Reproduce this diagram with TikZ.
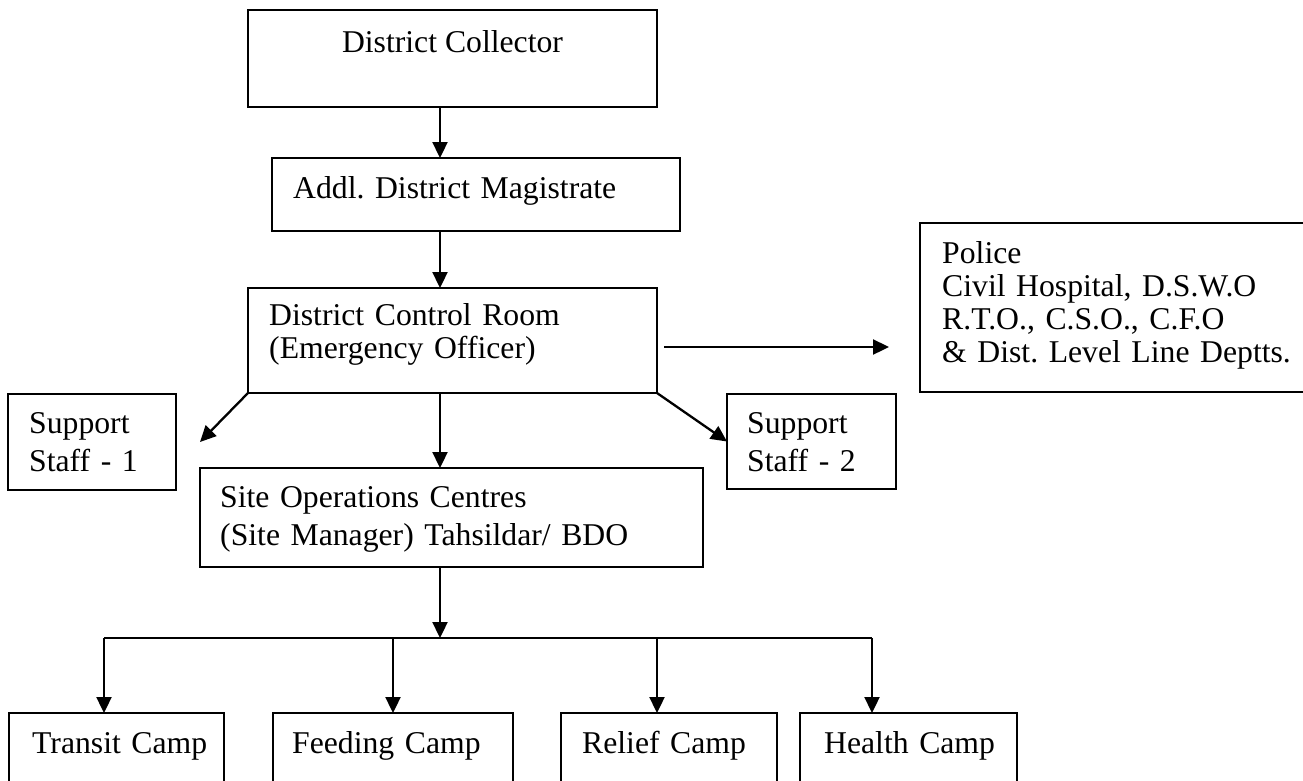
\documentclass[tikz,border=0pt]{standalone}
\usepackage{fontspec}
\setmainfont{Liberation Serif}
\usetikzlibrary{arrows.meta}
\frenchspacing
\begin{document}
\begin{tikzpicture}[x=1pt,y=-1pt,
  box/.style={draw, line width=2.3pt, inner sep=0pt, outer sep=0pt, anchor=north west},
  txt/.style={inner sep=0pt, anchor=base west, text width=600pt, align=left,
              font=\fontsize{31.7}{33.3}\selectfont\frenchspacing},
  txtw/.style={txt, font=\fontsize{31.7}{38}\selectfont\frenchspacing},
  arr/.style={-{Triangle[length=16pt,width=15pt]}, line width=2.3pt},
  ln/.style={line width=2.3pt}]
\useasboundingbox (0,0) rectangle (1303,780);
\clip (0,0) rectangle (1303,780);
% boxes
\node[box, minimum width=409pt, minimum height=97pt]  (dc)  at (248,10)  {};
\node[box, minimum width=408pt, minimum height=73pt]  (adm) at (272,158) {};
\node[box, minimum width=409pt, minimum height=105pt] (dcr) at (248,288) {};
\node[box, minimum width=400pt, minimum height=169pt] (pol) at (920,223) {};
\node[box, minimum width=168pt, minimum height=96pt]  (ss1) at (8,394)   {};
\node[box, minimum width=169pt, minimum height=95pt]  (ss2) at (727,394) {};
\node[box, minimum width=503pt, minimum height=99pt]  (soc) at (200,468) {};
\node[box, minimum width=215pt, minimum height=90pt]  (tc)  at (9,713)   {};
\node[box, minimum width=240pt, minimum height=90pt]  (fc)  at (273,713) {};
\node[box, minimum width=216pt, minimum height=90pt]  (rc)  at (561,713) {};
\node[box, minimum width=217pt, minimum height=90pt]  (hc)  at (800,713) {};
% texts
\node[inner sep=0pt, anchor=base, font=\fontsize{31.7}{33.3}\selectfont] (dct) at (452.5,52) {District Collector};
\node[txt] (admt) at (293,198) {Addl. District Magistrate};
\node[txt] (dcrt) at (269,325) {District Control Room\\(Emergency Officer)};
\node[txt] (polt) at (942,263) {Police\\Civil Hospital, D.S.W.O\\R.T.O., C.S.O., C.F.O\\\& Dist. Level Line Deptts.};
\node[txtw] (ss1t) at (29,433) {Support\\Staff - 1};
\node[txtw] (ss2t) at (747,433) {Support\\Staff - 2};
\node[txtw] (soct) at (220,507) {Site Operations Centres\\(Site Manager) Tahsildar/ BDO};
\node[txt] (tct) at (32,753) {Transit Camp};
\node[txt] (fct) at (292,753) {Feeding Camp};
\node[txt] (rct) at (582,753) {Relief Camp};
\node[txt] (hct) at (824,753) {Health Camp};
% helper coordinates
\coordinate (ax) at (440,0);
\coordinate (h1) at (664,347);
\coordinate (h2) at (889,347);
\coordinate (dl) at (200,442);
\coordinate (bm) at (440,638);
\coordinate (b1) at (104,638);
\coordinate (b2) at (393,638);
\coordinate (b3) at (657,638);
\coordinate (b4) at (872,638);
% connectors
\draw[arr] (dc.south -| ax) -- (adm.north -| ax);
\draw[arr] (adm.south -| ax) -- (dcr.north -| ax);
\draw[arr] (dcr.south -| ax) -- (soc.north -| ax);
\draw[arr] (h1) -- (h2);
\draw[arr] (dcr.south west) -- (dl);
\draw[arr] (dcr.south east) -- (ss2.west);
\draw[arr] (soc.south -| ax) -- (bm);
\draw[ln] (b1) -- (b4);
\draw[arr] (b1) -- (tc.north -| b1);
\draw[arr] (b2) -- (fc.north -| b2);
\draw[arr] (b3) -- (rc.north -| b3);
\draw[arr] (b4) -- (hc.north -| b4);
\end{tikzpicture}
\end{document}
